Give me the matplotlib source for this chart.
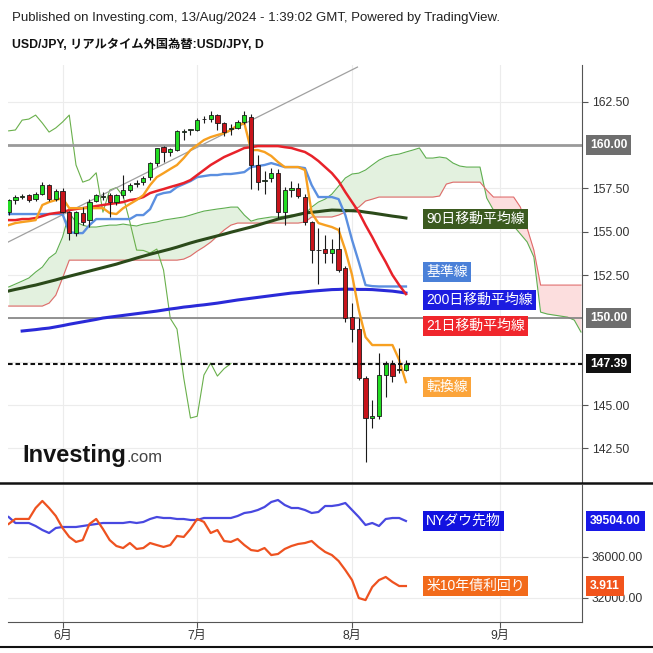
import matplotlib
matplotlib.use("Agg")
import matplotlib.pyplot as plt
import numpy as np
import pandas as pd
from matplotlib.lines import Line2D
from matplotlib.patches import Rectangle
from matplotlib.transforms import blended_transform_factory

plt.rcParams["font.family"] = ["Liberation Sans", "Noto Sans CJK JP", "DejaVu Sans"]

W = H = 653

# ---------------- data ----------------
# daily bars 2024-05-22 .. 2024-08-13, plus 26 future slots for the cloud
dates = pd.bdate_range("2024-05-22", periods=86)

opens = [156.13, 156.83, 157.02, 157.10, 156.90, 157.20, 157.70, 156.90, 157.35, 156.13,
         154.92, 156.10, 155.67, 156.80, 157.02, 157.10, 156.70, 157.10, 157.40, 157.75,
         157.85, 158.15, 158.96, 159.88, 159.60, 159.70, 160.78, 160.85, 160.87, 161.48,
         161.50, 161.73, 161.27, 160.95, 161.00, 161.33, 161.60, 158.85, 157.95, 158.10,
         158.40, 156.13, 157.40, 157.55, 157.00, 155.56, 153.95, 154.00, 153.77, 154.00,
         152.90, 150.07, 149.38, 146.56, 144.25, 144.36, 146.73, 147.36, 147.00, 147.02]
highs = [156.90, 157.10, 157.15, 157.20, 157.30, 157.85, 157.75, 157.45, 157.50, 156.20,
         156.20, 156.45, 156.90, 157.15, 157.30, 157.25, 157.15, 158.25, 157.80, 158.00,
         158.20, 159.00, 159.85, 159.95, 159.85, 160.87, 160.90, 160.95, 161.55, 161.70,
         161.95, 161.80, 161.35, 161.20, 161.45, 161.95, 161.80, 159.40, 158.50, 158.65,
         158.60, 157.60, 157.95, 157.80, 157.20, 155.60, 155.20, 154.80, 154.60, 155.27,
         153.05, 150.90, 150.00, 146.70, 145.30, 148.00, 147.55, 147.60, 148.30, 147.60]
lows = [155.95, 156.60, 156.90, 156.70, 156.80, 157.10, 156.80, 156.75, 156.10, 154.55,
        154.75, 155.40, 155.30, 156.70, 156.85, 155.85, 156.55, 156.95, 157.30, 157.60,
        157.70, 158.00, 158.80, 159.00, 159.35, 159.65, 160.29, 160.60, 160.80, 161.25,
        161.35, 160.87, 160.50, 160.60, 160.90, 161.20, 157.45, 157.40, 157.20, 157.85,
        155.80, 155.40, 157.00, 156.95, 155.40, 153.20, 152.00, 153.20, 153.20, 152.70,
        149.80, 148.63, 146.45, 141.70, 143.67, 144.20, 145.46, 146.30, 146.85, 146.95]
closes = [156.83, 157.00, 157.05, 156.83, 157.20, 157.70, 156.90, 157.35, 156.13, 154.92,
          156.13, 155.55, 156.70, 157.10, 157.06, 156.70, 157.10, 157.40, 157.70, 157.82,
          158.10, 158.96, 159.83, 159.60, 159.77, 160.80, 160.82, 160.87, 161.44, 161.50,
          161.73, 161.27, 160.75, 160.99, 161.33, 161.73, 158.85, 157.86, 158.00, 158.40,
          156.13, 157.40, 157.55, 157.05, 155.56, 153.94, 153.92, 153.77, 154.00, 152.79,
          150.00, 149.38, 146.56, 144.25, 144.35, 146.73, 147.42, 146.67, 147.10, 147.39]

tenkan = [155.38, 155.50, 155.56, 155.61, 155.67, 156.54, 156.71, 156.83, 156.94, 156.36,
          156.36, 156.36, 156.36, 156.36, 156.36, 156.08, 156.02, 156.36, 156.60, 156.83,
          157.11, 157.69, 158.15, 158.38, 158.62, 158.85, 159.25, 159.71, 160.00, 160.29,
          160.46, 160.58, 160.69, 160.87, 161.15, 161.27, 159.71, 159.71, 159.60, 159.37,
          159.02, 158.73, 158.73, 158.73, 158.56, 156.08, 155.50, 155.38, 155.27, 155.10,
          153.94, 152.50, 150.48, 148.92, 148.46, 148.46, 148.46, 148.46, 147.60, 146.32]
kijun = [156.02, 156.02, 156.02, 156.02, 156.02, 156.02, 156.02, 156.02, 156.02, 154.98,
         154.92, 154.92, 155.38, 155.73, 155.73, 155.73, 155.73, 155.73, 155.73, 155.96,
         155.96, 156.30, 157.11, 157.23, 157.29, 157.58, 157.75, 157.92, 158.15, 158.21,
         158.27, 158.27, 158.33, 158.33, 158.38, 158.44, 158.73, 158.79, 158.85, 158.96,
         158.85, 158.73, 158.73, 158.73, 158.67, 157.69, 157.00, 157.00, 157.00, 156.88,
         155.96, 154.52, 153.25, 151.92, 151.86, 151.84, 151.84, 151.84, 151.84, 151.84]
ma21 = [155.67, 155.67, 155.73, 155.73, 155.79, 155.90, 156.02, 156.08, 156.13, 156.25,
        156.31, 156.36, 156.42, 156.48, 156.54, 156.60, 156.65, 156.71, 156.83, 156.88,
        157.00, 157.23, 157.35, 157.46, 157.58, 157.69, 157.81, 157.98, 158.27, 158.56,
        158.85, 159.08, 159.31, 159.48, 159.65, 159.83, 159.88, 159.94, 159.94, 159.94,
        159.94, 159.88, 159.83, 159.71, 159.60, 159.37, 159.08, 158.73, 158.38, 157.92,
        157.29, 156.71, 156.13, 155.38, 154.69, 153.94, 153.25, 152.50, 151.92, 151.40]
ma90 = [151.58, 151.67, 151.75, 151.84, 151.92, 152.02, 152.12, 152.22, 152.33, 152.43,
        152.53, 152.63, 152.73, 152.83, 152.93, 153.03, 153.13, 153.25, 153.36, 153.48,
        153.59, 153.70, 153.80, 153.90, 154.00, 154.11, 154.23, 154.35, 154.46, 154.56,
        154.66, 154.76, 154.86, 154.97, 155.07, 155.17, 155.27, 155.38, 155.50, 155.61,
        155.73, 155.82, 155.90, 155.99, 156.08, 156.12, 156.16, 156.21, 156.25, 156.24,
        156.22, 156.21, 156.19, 156.13, 156.08, 156.02, 155.96, 155.90, 155.85, 155.79]
ma200 = [np.nan, np.nan, 149.27, 149.31, 149.35, 149.40, 149.44, 149.51, 149.58, 149.66,
         149.73, 149.80, 149.87, 149.94, 150.02, 150.07, 150.12, 150.17, 150.22, 150.27,
         150.32, 150.37, 150.42, 150.48, 150.54, 150.59, 150.65, 150.69, 150.74, 150.78,
         150.83, 150.88, 150.94, 151.00, 151.06, 151.11, 151.16, 151.21, 151.26, 151.31,
         151.36, 151.41, 151.46, 151.49, 151.53, 151.57, 151.60, 151.63, 151.66, 151.67,
         151.69, 151.68, 151.67, 151.67, 151.66, 151.63, 151.60, 151.57, 151.52, 151.46]
span_a = [151.81, 151.98, 152.15, 152.33, 152.67, 152.96, 153.48, 153.77, 154.69, 156.08,
          155.56, 155.38, 155.27, 155.27, 155.33, 155.38, 155.38, 155.44, 155.38, 155.33,
          155.44, 155.50, 155.56, 155.67, 155.73, 155.79, 155.85, 155.96, 156.08, 156.19,
          156.25, 156.31, 156.36, 156.42, 156.42, 155.96, 155.61, 155.73, 155.79, 155.85,
          155.85, 155.90, 155.96, 155.96, 156.02, 156.42, 156.71, 156.88, 157.17, 157.63,
          158.10, 158.33, 158.38, 158.56, 158.85, 159.13, 159.31, 159.42, 159.48, 159.60,
          159.71, 159.83, 159.25, 159.25, 159.31, 159.25, 158.96, 158.79, 158.73, 158.73,
          158.73, 156.94, 156.25, 156.02, 155.56, 155.33, 154.87, 154.41, 153.54, 150.36,
          150.25, 150.19, 150.13, 150.07, 149.90, 149.21]
span_b = ([150.71] * 6 + [150.88, 151.34, 152.33] + [153.36] * 17
          + [153.42, 153.60, 153.88, 154.12, 154.40, 154.75, 155.10, 155.38]
          + [155.50] * 10 + [155.56] + [155.85] * 4
          + [155.96, 156.13, 156.25, 156.42, 156.77, 156.88] + [157.00] * 9
          + [157.06, 157.75] + [157.86] * 5 + [157.40] + [157.00] * 4
          + [156.42, 155.21, 153.94] + [151.92] * 7)
chikou_shift = 26

trend_x = [-0.1, 51.8]
trend_y = [154.40, 164.50]

dow = [39894, 39309, 39309, 39309, 39016, 38626, 38333, 38821, 38919, 38919,
       38919, 39016, 39114, 39211, 39309, 39309, 39309, 39309, 39406, 39309,
       39406, 39699, 39894, 39797, 39797, 39699, 39699, 39602, 39602, 39797,
       39797, 39797, 39797, 39797, 39992, 40284, 40382, 40577, 40870, 41358,
       41553, 41065, 40772, 40772, 40577, 40284, 40382, 40967, 40967, 41065,
       41260, 40577, 39894, 39114, 39309, 39016, 39699, 39797, 39797, 39504]
us10y = [4.432, 4.474, 4.474, 4.474, 4.566, 4.625, 4.566, 4.499, 4.398, 4.323,
         4.281, 4.297, 4.432, 4.474, 4.390, 4.297, 4.247, 4.230, 4.272, 4.222,
         4.230, 4.272, 4.255, 4.239, 4.255, 4.331, 4.323, 4.390, 4.474, 4.449,
         4.356, 4.381, 4.289, 4.281, 4.306, 4.255, 4.213, 4.205, 4.230, 4.171,
         4.180, 4.222, 4.247, 4.264, 4.272, 4.289, 4.239, 4.197, 4.171, 4.121,
         4.045, 3.961, 3.810, 3.793, 3.903, 3.961, 3.987, 3.945, 3.911, 3.911]

price_ticks = [142.5, 145.0, 152.5, 155.0, 157.5, 162.5]
level_lines = [160.0, 150.0]
dow_ticks = [32000, 36000]

# ---------------- styling ----------------
GREEN, RED = "#22dd22", "#c8141b"
C_TENKAN, C_KIJUN = "#f7a021", "#5b8fe0"
C_MA21, C_MA90, C_MA200 = "#e8222a", "#2b4a1a", "#2a2ad8"
C_SPAN_A, C_SPAN_B = "#5fae50", "#e06a6a"
GRID = "#ececec"


def fbox(x0, y0, x1, y1):
    return [x0 / W, 1 - y1 / H, (x1 - x0) / W, (y1 - y0) / H]


fig = plt.figure(figsize=(6.53, 6.53), dpi=100)
fig.patch.set_facecolor("white")
ax = fig.add_axes(fbox(8, 65, 582, 483))
axl = fig.add_axes(fbox(8, 485, 582, 622))

n = len(closes)
xs = np.arange(n)
xf = np.arange(len(span_a))
month_pos = [i for i in range(1, len(dates)) if dates[i].month != dates[i - 1].month]
month_lab = [f"{dates[i].month}月" for i in month_pos]

# ---- main price panel ----
ax.set_xlim(-0.1, 85.15)
ax.set_ylim(140.5, 164.62)
for v in np.arange(142.5, 165, 2.5):
    ax.axhline(v, color=GRID, lw=0.8, zorder=0)
for m in month_pos:
    ax.axvline(m, color=GRID, lw=0.8, zorder=0)

sa, sb = np.array(span_a), np.array(span_b)
ax.fill_between(xf, sa, sb, where=sa >= sb, interpolate=True, color="#e3f1df", lw=0, zorder=1)
ax.fill_between(xf, sa, sb, where=sa < sb, interpolate=True, color="#fcdede", lw=0, zorder=1)
ax.plot(xf, sa, color=C_SPAN_A, lw=0.8, zorder=2)
ax.plot(xf, sb, color=C_SPAN_B, lw=0.8, zorder=2)
ax.plot(xs[:n - chikou_shift], closes[chikou_shift:], color="#6ab04c", lw=0.8, zorder=2)

ax.axhline(level_lines[0], color="#9a9a9a", lw=2.0, zorder=2)
ax.axhline(level_lines[1], color="#808080", lw=1.2, zorder=2)
ax.plot(trend_x, trend_y, color="#a0a0a0", lw=0.9, zorder=2)

ax.plot(xs, ma200, color=C_MA200, lw=2.2, zorder=3)
ax.plot(xs, ma90, color=C_MA90, lw=2.2, zorder=3)
ax.plot(xs, kijun, color=C_KIJUN, lw=1.7, zorder=3)
ax.plot(xs, ma21, color=C_MA21, lw=1.8, zorder=3)
ax.plot(xs, tenkan, color=C_TENKAN, lw=1.7, zorder=3)

for i, (o, h, l, c) in enumerate(zip(opens, highs, lows, closes)):
    ax.vlines(i, l, h, color="#1a1a1a", lw=0.8, zorder=5)
    ax.add_patch(Rectangle((i - 0.32, min(o, c)), 0.64, max(abs(c - o), 0.05),
                           facecolor=GREEN if c >= o else RED, edgecolor="#1a1a1a",
                           lw=0.6, zorder=6))

ax.axhline(closes[-1], color="#111111", lw=1.5, ls=(0, (2.2, 1.4)), zorder=7)

for s in ["top", "left", "bottom"]:
    ax.spines[s].set_visible(False)
ax.spines["right"].set_color("#555555")
ax.set_xticks([])
ax.yaxis.tick_right()
ax.set_yticks(price_ticks)
ax.set_yticklabels([f"{v:.2f}" for v in price_ticks])
ax.tick_params(axis="y", length=4, color="#555555", labelsize=8.7, labelcolor="#333333", pad=3)


def tag(axis, y, text, bg):
    tr = blended_transform_factory(axis.transAxes, axis.transData)
    axis.text(1.0139, y, text, transform=tr, color="white", fontsize=8.7, fontweight="bold",
              va="center", ha="left", clip_on=False, zorder=10,
              bbox=dict(boxstyle="square,pad=0.32", fc=bg, ec="none"))


tag(ax, level_lines[0], f"{level_lines[0]:.2f}", "#6e6e6e")
tag(ax, level_lines[1], f"{level_lines[1]:.2f}", "#6e6e6e")
tag(ax, closes[-1], f"{closes[-1]:.2f}", "#111111")


def label(axis, x, y, text, bg):
    axis.text(x, y, text, color="white", fontsize=10, va="center", ha="left", zorder=9,
              bbox=dict(boxstyle="square,pad=0.2", fc=bg, ec="none"))


label(ax, 62.0, 155.73, "90日移動平均線", "#3b5a1f")
label(ax, 62.0, 152.67, "基準線", "#4a80d8")
label(ax, 62.0, 151.06, "200日移動平均線", "#1c1ce0")
label(ax, 62.0, 149.56, "21日移動平均線", "#f0262c")
label(ax, 62.0, 146.04, "転換線", "#fba43a")

# ---- lower panel: Dow futures & US10Y ----
axl.set_xlim(-0.1, 85.15)
axl.set_ylim(29650, 43016)
for v in dow_ticks:
    axl.axhline(v, color=GRID, lw=0.8, zorder=0)
for m in month_pos:
    axl.axvline(m, color=GRID, lw=0.8, zorder=0)
axl.plot(xs, dow, color="#4848e0", lw=1.6, zorder=3)
ay = axl.twinx()
ay.set_ylim(3.609, 4.759)
ay.plot(xs, us10y, color="#ee5220", lw=1.6, zorder=3)
ay.axis("off")

for s in ["top", "left"]:
    axl.spines[s].set_visible(False)
axl.spines["right"].set_color("#555555")
axl.spines["bottom"].set_color("#555555")
axl.yaxis.tick_right()
axl.set_yticks(dow_ticks)
axl.set_yticklabels([f"{v:.2f}" for v in dow_ticks])
axl.tick_params(axis="y", length=4, color="#555555", labelsize=8.7, labelcolor="#333333", pad=3)
axl.set_xticks(month_pos)
axl.set_xticklabels(month_lab)
axl.tick_params(axis="x", length=4, color="#555555", labelsize=8.7, labelcolor="#333333", pad=2)

tag(axl, dow[-1], f"{dow[-1]:.2f}", "#1818e6")
tag(ay, us10y[-1], f"{us10y[-1]:.3f}", "#f2541c")
label(axl, 62.0, dow[-1], "NYダウ先物", "#1212e0")
label(ay, 62.0, us10y[-1], "米10年債利回り", "#f26a1a")

# ---- frame lines, header, logo ----
for yy, lw in [(483, 1.8), (647, 1.5)]:
    fig.add_artist(Line2D([0, 1], [1 - yy / H] * 2, color="#111111", lw=lw,
                          transform=fig.transFigure))

fig.text(12 / W, 1 - 18 / H,
         "Published on Investing.com, 13/Aug/2024 - 1:39:02 GMT, Powered by TradingView.",
         fontsize=9.5, color="#222222", va="center")
fig.text(12 / W, 1 - 45 / H, "USD/JPY, リアルタイム外国為替:USD/JPY, D",
         fontsize=8.8, fontweight="bold", color="#111111", va="center")

fig.text(22 / W, 1 - 462 / H, "Investing", fontsize=17, fontweight="bold",
         color="#141414", va="baseline", family=["Liberation Sans"])
fig.text(127 / W, 1 - 462 / H, ".com", fontsize=12, color="#444444", va="baseline",
         family=["Liberation Sans"])

fig.savefig("out.png", dpi=100, facecolor="white")
